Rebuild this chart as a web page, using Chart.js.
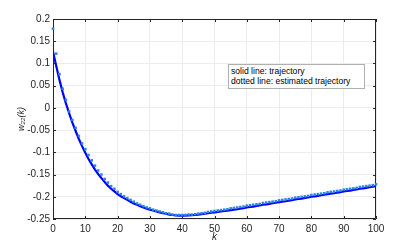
<!DOCTYPE html>
<html>
<head>
<meta charset="utf-8">
<script src="https://cdn.jsdelivr.net/npm/chart.js@4/dist/chart.umd.min.js"></script>
<style>
  html, body { margin: 0; padding: 0; background: #fff; }
  #wrap { position: relative; width: 415px; height: 247px; }
  #note {
    position: absolute; left: 228px; top: 64px; width: 133px; height: 22px;
    border: 1px solid #b0b0b0; background: #fff;
    font: 8.6px "Liberation Sans", Arial, sans-serif; color: #000;
    line-height: 10px; padding: 1px 0 0 2px; box-sizing: content-box; white-space: nowrap;
  }
</style>
</head>
<body>
<div id="wrap">
  <canvas id="graph" width="415" height="247"></canvas>
  <div id="note">solid line: trajectory<br>dotted line: estimated trajectory</div>
</div>
<script>
// k = 0..100
const steps = [];
for (let i = 0; i <= 100; i++) steps.push(i);

// solid line: trajectory
const trajectory = [
  0.127, 0.094, 0.063, 0.035, 0.010, -0.012, -0.033, -0.052, -0.070, -0.086,
  -0.101, -0.115, -0.127, -0.139, -0.149, -0.158, -0.167, -0.175, -0.182, -0.188,
  -0.194, -0.199, -0.203, -0.207, -0.211, -0.215, -0.218, -0.221, -0.224, -0.227,
  -0.229, -0.231, -0.233, -0.235, -0.237, -0.238, -0.240, -0.241, -0.242, -0.2425,
  -0.2425, -0.2425, -0.242, -0.2415, -0.241, -0.240, -0.239, -0.238, -0.237, -0.236,
  -0.235, -0.234, -0.233, -0.232, -0.231, -0.230, -0.229, -0.228, -0.2265, -0.2255,
  -0.224, -0.223, -0.222, -0.2205, -0.2195, -0.218, -0.217, -0.216, -0.2145, -0.2135,
  -0.212, -0.211, -0.210, -0.2085, -0.2075, -0.206, -0.205, -0.204, -0.2025, -0.2015,
  -0.200, -0.199, -0.198, -0.1965, -0.1955, -0.194, -0.193, -0.192, -0.1905, -0.1895,
  -0.188, -0.187, -0.186, -0.1845, -0.1835, -0.182, -0.181, -0.180, -0.1785, -0.1775,
  -0.176
];

// dotted line: estimated trajectory
const estimated = [
  0.178, 0.122, 0.076, 0.043, 0.018, -0.008, -0.027, -0.045, -0.063, -0.080,
  -0.093, -0.106, -0.118, -0.130, -0.141, -0.150, -0.160, -0.168, -0.176, -0.182,
  -0.189, -0.194, -0.199, -0.203, -0.207, -0.211, -0.215, -0.218, -0.221, -0.224,
  -0.226, -0.229, -0.231, -0.233, -0.235, -0.237, -0.238, -0.240, -0.241, -0.241,
  -0.241, -0.241, -0.240, -0.240, -0.239, -0.238, -0.237, -0.236, -0.234, -0.233,
  -0.232, -0.231, -0.230, -0.229, -0.228, -0.226, -0.225, -0.224, -0.223, -0.222,
  -0.220, -0.219, -0.218, -0.217, -0.216, -0.214, -0.213, -0.212, -0.211, -0.210,
  -0.208, -0.207, -0.206, -0.205, -0.204, -0.202, -0.201, -0.200, -0.199, -0.198,
  -0.196, -0.195, -0.194, -0.193, -0.192, -0.190, -0.189, -0.188, -0.187, -0.186,
  -0.184, -0.183, -0.182, -0.181, -0.180, -0.178, -0.177, -0.176, -0.175, -0.174,
  -0.172
];

const xTicks = [0, 10, 20, 30, 40, 50, 60, 70, 80, 90, 100];
const yTicks = [0.2, 0.15, 0.1, 0.05, 0, -0.05, -0.1, -0.15, -0.2, -0.25];

const axisColor = '#262626';
const font = { family: '"Liberation Sans", Arial, sans-serif', size: 10 };

// box around the axes with small inward ticks on all four sides, under the data
const frame = {
  id: 'frame',
  beforeDatasetsDraw(chart) {
    const { ctx, chartArea: a, scales } = chart;
    ctx.save();
    ctx.strokeStyle = axisColor;
    ctx.lineWidth = 1;
    ctx.beginPath();
    ctx.rect(a.left + 0.5, a.top + 0.5, a.right - a.left - 1, a.bottom - a.top - 1);
    for (const v of xTicks) {
      const x = Math.round(scales.x.getPixelForValue(v)) + 0.5;
      ctx.moveTo(x, a.bottom); ctx.lineTo(x, a.bottom - 3);
      ctx.moveTo(x, a.top); ctx.lineTo(x, a.top + 3);
    }
    for (const v of yTicks) {
      const y = Math.round(scales.y.getPixelForValue(v)) + 0.5;
      ctx.moveTo(a.left, y); ctx.lineTo(a.left + 3, y);
      ctx.moveTo(a.right, y); ctx.lineTo(a.right - 3, y);
    }
    ctx.stroke();
    ctx.restore();
  }
};

new Chart(document.getElementById('graph').getContext('2d'), {
  type: 'line',
  data: {
    datasets: [
      {
        label: 'estimated trajectory',
        data: steps.map((k, i) => ({ x: k, y: estimated[i] })),
        showLine: false,
        clip: false,
        pointStyle: 'rect',
        pointRadius: 1.8,
        pointBackgroundColor: '#2a86e0',
        pointBorderWidth: 0
      },
      {
        label: 'trajectory',
        data: steps.map((k, i) => ({ x: k, y: trajectory[i] })),
        borderColor: '#0000ff',
        borderWidth: 2.2,
        pointRadius: 0,
        tension: 0
      }
    ]
  },
  options: {
    responsive: false,
    animation: false,
    layout: { padding: { top: 19, right: 39, left: 0, bottom: 0 } },
    plugins: { legend: { display: false }, tooltip: { enabled: false } },
    scales: {
      x: {
        type: 'linear',
        min: -0.001,
        max: 100,
        afterBuildTicks: s => { s.ticks = xTicks.map(v => ({ value: v })); },
        afterFit: s => { s.height = 28; },
        grid: { color: '#ececec', drawTicks: false },
        border: { display: false },
        ticks: { font, color: axisColor, padding: 4, maxRotation: 0 },
        title: { display: true, text: 'k', font: { ...font, style: 'italic' }, color: axisColor, padding: { top: 0, bottom: 4 } }
      },
      y: {
        min: -0.25,
        max: 0.2,
        afterBuildTicks: s => { s.ticks = yTicks.map(v => ({ value: v })); },
        afterFit: s => { s.width = 53; },
        grid: { color: '#ececec', drawTicks: false },
        border: { display: false },
        ticks: { font, color: axisColor, padding: 3, callback: v => String(Math.round(v * 100) / 100) },
        title: { display: true, text: 'w₂₂(k)', font: { ...font, style: 'italic', size: 9 }, color: axisColor, padding: { top: 16, bottom: 0 } }
      }
    }
  },
  plugins: [frame]
});
</script>
</body>
</html>
